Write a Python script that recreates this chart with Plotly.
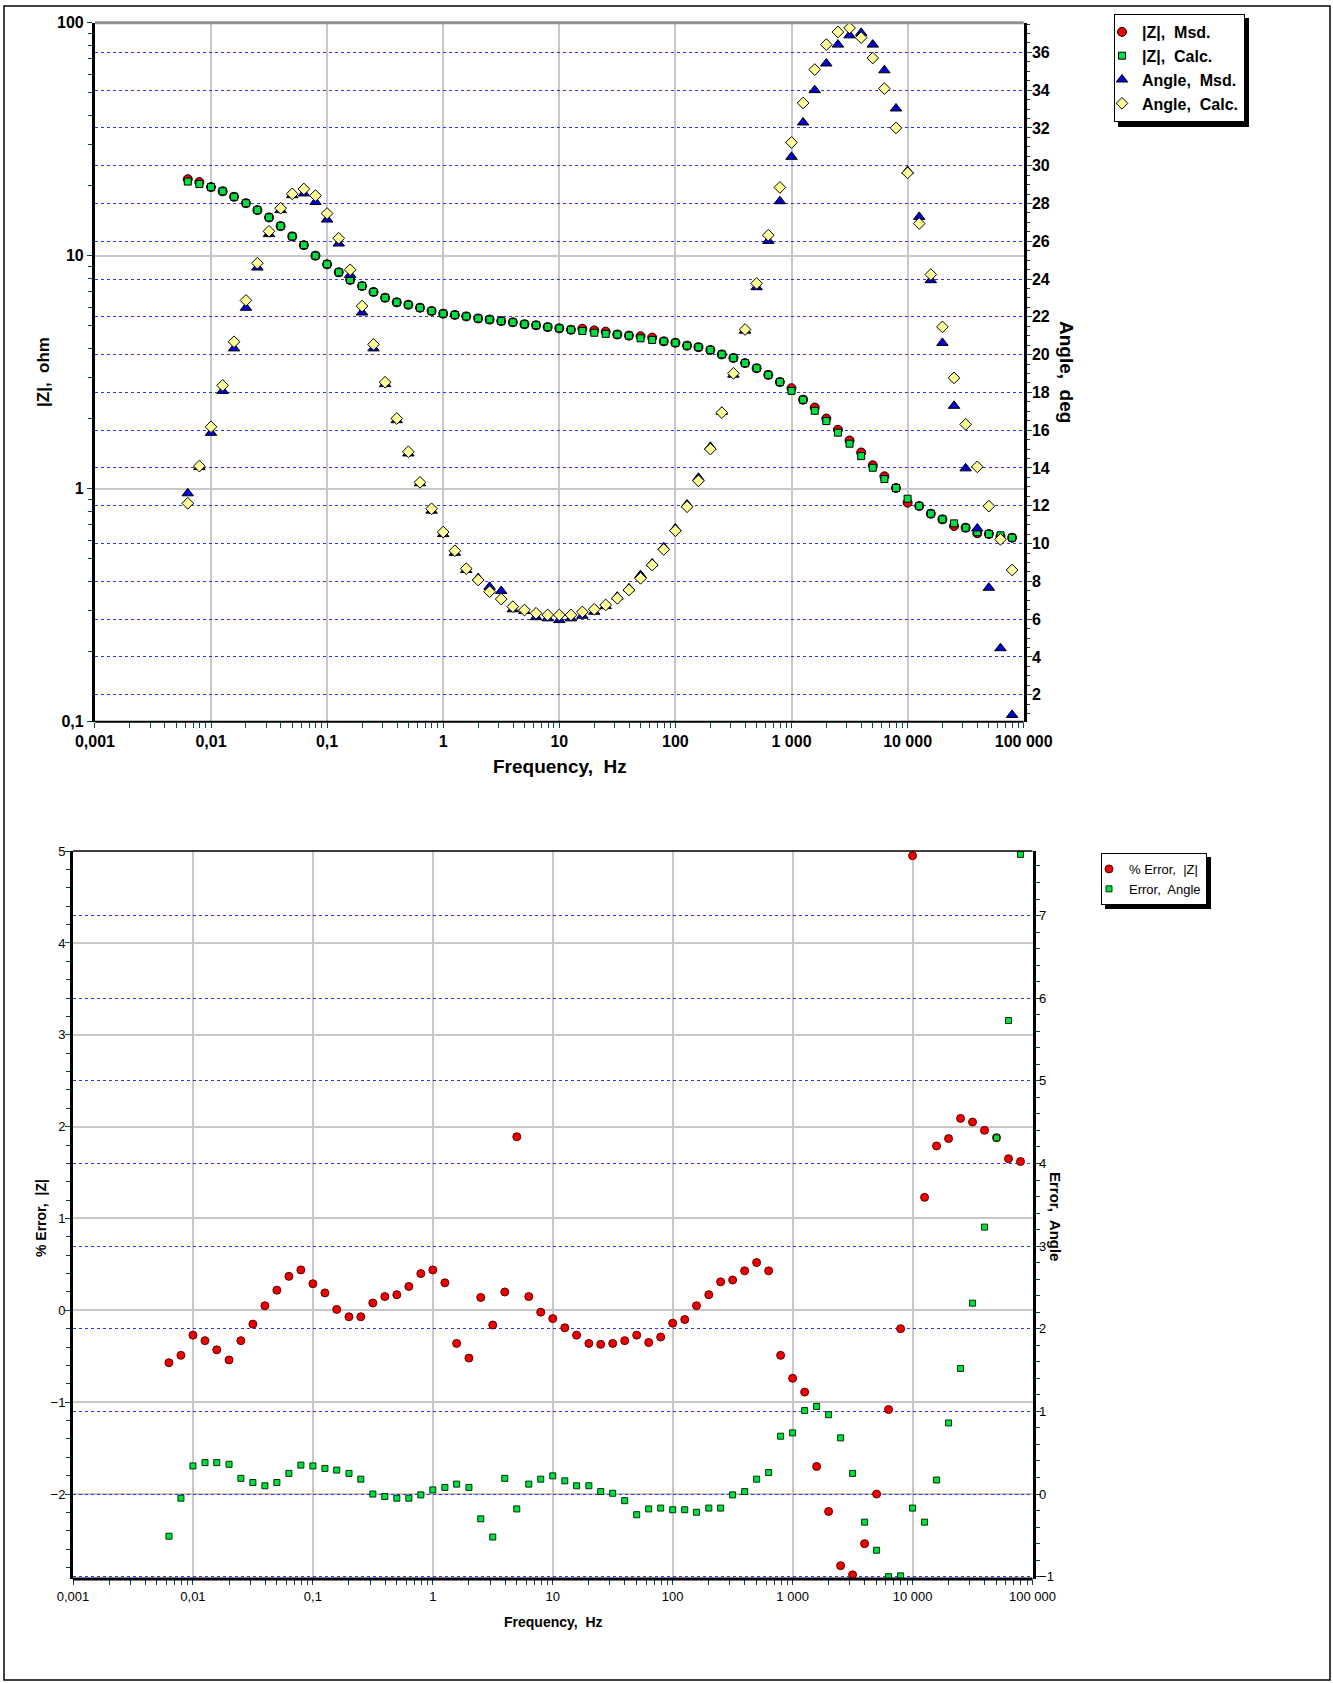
import plotly.graph_objects as go

W, H = 1333, 1683

# ---------------- data ----------------
freq = [0.00631, 0.00794, 0.01, 0.0126, 0.0158, 0.02, 0.0251, 0.0316, 0.0398, 0.0501,
        0.0631, 0.0794, 0.1, 0.126, 0.158, 0.2, 0.251, 0.316, 0.398, 0.501,
        0.631, 0.794, 1.0, 1.26, 1.58, 2.0, 2.51, 3.16, 3.98, 5.01,
        6.31, 7.94, 10.0, 12.6, 15.8, 20.0, 25.1, 31.6, 39.8, 50.1,
        63.1, 79.4, 100.0, 126.0, 158.0, 200.0, 251.0, 316.0, 398.0, 501.0,
        631.0, 794.0, 1000.0, 1259.0, 1585.0, 1995.0, 2512.0, 3162.0, 3981.0, 5012.0,
        6310.0, 7943.0, 10000.0, 12589.0, 15849.0, 19953.0, 25119.0, 31623.0, 39811.0, 50119.0,
        63096.0, 79433.0]

z_calc = [20.8, 20.3, 19.7, 18.9, 17.9, 16.8, 15.7, 14.6, 13.4, 12.1, 11.1, 10.0,
          9.19, 8.49, 7.87, 7.41, 6.99, 6.60, 6.31, 6.16, 5.98, 5.79,
          5.64, 5.57, 5.49, 5.38, 5.32, 5.24, 5.18, 5.08, 5.03, 4.94,
          4.88, 4.81, 4.75, 4.67, 4.62, 4.59, 4.54, 4.42, 4.35, 4.29,
          4.23, 4.11, 4.05, 3.94, 3.77, 3.64, 3.46, 3.29, 3.08, 2.87,
          2.63, 2.41, 2.16, 1.95, 1.74, 1.56, 1.38, 1.23, 1.10, 1.007,
          0.906, 0.843, 0.781, 0.739, 0.710, 0.680, 0.650, 0.639, 0.631, 0.616]

z_msd = [21.3, 20.7, 19.7, 18.9, 17.9, 16.8, 15.7, 14.6, 13.4, 12.1, 11.1, 10.0,
         9.19, 8.49, 7.87, 7.41, 6.99, 6.60, 6.31, 6.16, 5.98, 5.79,
         5.64, 5.57, 5.49, 5.38, 5.32, 5.24, 5.18, 5.08, 5.03, 4.94,
         4.88, 4.81, 4.86, 4.78, 4.72, 4.59, 4.54, 4.51, 4.45, 4.29,
         4.23, 4.11, 4.05, 3.94, 3.77, 3.64, 3.46, 3.29, 3.08, 2.87,
         2.70, 2.41, 2.23, 2.00, 1.79, 1.61, 1.43, 1.26, 1.13, 1.007,
         0.871, 0.843, 0.781, 0.739, 0.692, 0.680, 0.644, 0.639, 0.622, 0.616]

ang_msd = [12.66, 14.05, 15.86, 18.08, 20.33, 22.48, 24.61, 26.38, 27.65, 28.44, 28.53, 28.08,
           27.15, 25.88, 24.22, 22.23, 20.33, 18.44, 16.53, 14.77, 13.19, 11.74,
           10.50, 9.51, 8.60, 8.17, 7.71, 7.49, 6.52, 6.43, 6.10, 6.04,
           5.95, 6.04, 6.18, 6.39, 6.69, 7.19, 7.63, 8.33, 8.95, 9.80,
           10.80, 12.07, 13.48, 15.12, 16.97, 18.94, 21.27, 23.57, 26.02, 28.12,
           30.47, 32.29, 34.00, 35.41, 36.41, 36.90, 37.03, 36.41, 35.05, 33.03,
           29.72, 27.29, 23.94, 20.62, 17.29, 13.98, 10.80, 7.66, 4.46, 0.93]

ang_calc = [12.13, 14.10, 16.18, 18.37, 20.68, 22.87, 24.84, 26.53, 27.75, 28.51, 28.77, 28.42,
            27.47, 26.16, 24.49, 22.57, 20.54, 18.54, 16.62, 14.86, 13.24, 11.84,
            10.61, 9.62, 8.67, 8.07, 7.45, 7.06, 6.66, 6.48, 6.31, 6.22,
            6.22, 6.22, 6.38, 6.52, 6.75, 7.10, 7.54, 8.16, 8.86, 9.69,
            10.68, 11.95, 13.32, 15.00, 16.93, 19.01, 21.33, 23.77, 26.32, 28.85,
            31.23, 33.32, 35.09, 36.41, 37.08, 37.29, 36.78, 35.70, 34.08, 32.00,
            29.62, 26.94, 24.24, 21.47, 18.77, 16.31, 14.06, 11.98, 10.22, 8.60]

err_z = [-0.57, -0.49, -0.27, -0.33, -0.43, -0.54, -0.33, -0.15, 0.05, 0.22, 0.37, 0.44,
         0.29, 0.19, 0.01, -0.07, -0.07, 0.08, 0.15, 0.17, 0.26, 0.40,
         0.44, 0.30, -0.36, -0.52, 0.14, -0.16, 0.20, 1.89, 0.15, -0.02,
         -0.09, -0.19, -0.27, -0.36, -0.37, -0.36, -0.33, -0.27, -0.35, -0.29,
         -0.14, -0.10, 0.05, 0.17, 0.31, 0.33, 0.43, 0.52, 0.43, -0.49,
         -0.74, -0.89, -1.70, -2.19, -2.78, -2.88, -2.54, -2.00, -1.08, -0.20,
         4.95, 1.23, 1.79, 1.87, 2.09, 2.05, 1.96, 1.88, 1.65, 1.62]

err_ang = [-0.51, -0.05, 0.34, 0.38, 0.38, 0.36, 0.19, 0.14, 0.10, 0.14, 0.25, 0.35,
           0.34, 0.31, 0.29, 0.25, 0.18, 0.00, -0.03, -0.05, -0.05, -0.01,
           0.05, 0.08, 0.12, 0.08, -0.30, -0.52, 0.19, -0.18, 0.12, 0.18,
           0.22, 0.16, 0.10, 0.10, 0.03, 0.01, -0.08, -0.25, -0.18, -0.17,
           -0.19, -0.19, -0.22, -0.17, -0.17, -0.01, 0.03, 0.18, 0.26, 0.70,
           0.74, 1.01, 1.06, 0.96, 0.68, 0.25, -0.34, -0.68, -1.00, -0.99,
           -0.17, -0.34, 0.17, 0.86, 1.52, 2.31, 3.23, 4.31, 5.73, 7.74]

freq_ticks = [0.001, 0.01, 0.1, 1, 10, 100, 1000, 10000, 100000]
freq_labels = ["0,001", "0,01", "0,1", "1", "10", "100", "1 000", "10 000", "100 000"]
z_ticks = [0.1, 1, 10, 100]
z_labels = ["0,1", "1", "10", "100"]

# ---------------- styling helpers ----------------
FONT = "Liberation Sans, Arial, sans-serif"
TICKC = "#004848"
GRID = "#c8c8c8"
BLUEGRID = "#3030ff"


def px(x):
    return x / W


def py(y):
    return 1 - y / H


# pixel frames of the two panels
T_L, T_R, T_T, T_B = 94.9, 1023.7, 22.7, 721.7
B_L, B_R, B_T, B_B = 73.0, 1032.5, 851.1, 1579.0

minor_log = [m * 10 ** e for e in range(-3, 5) for m in range(2, 10)]

fig = go.Figure()

# ---- top panel: impedance modulus and phase angle ----
fig.add_trace(go.Scatter(x=freq, y=z_msd, mode="markers", name="|Z|,\u00a0 Msd.",
                         xaxis="x", yaxis="y", legend="legend",
                         marker=dict(symbol="circle", size=9, color="#ee0000",
                                     line=dict(color="#000000", width=1))))
fig.add_trace(go.Scatter(x=freq, y=z_calc, mode="markers", name="|Z|,\u00a0 Calc.",
                         xaxis="x", yaxis="y", legend="legend",
                         marker=dict(symbol="square", size=7, color="#00e040",
                                     line=dict(color="#000000", width=1))))
fig.add_trace(go.Scatter(x=freq, y=ang_msd, mode="markers", name="Angle,\u00a0 Msd.",
                         xaxis="x", yaxis="y2", legend="legend",
                         marker=dict(symbol="triangle-up", size=10, color="#0000d0",
                                     line=dict(color="#000000", width=1))))
fig.add_trace(go.Scatter(x=freq, y=ang_calc, mode="markers", name="Angle,\u00a0 Calc.",
                         xaxis="x", yaxis="y2", legend="legend",
                         marker=dict(symbol="diamond", size=9, color="#ffff99",
                                     line=dict(color="#000000", width=1))))

# ---- bottom panel: fit errors ----
fig.add_trace(go.Scatter(x=freq, y=err_z, mode="markers", name="% Error,\u00a0 |Z|",
                         xaxis="x2", yaxis="y3", legend="legend2",
                         marker=dict(symbol="circle", size=8, color="#ee0000",
                                     line=dict(color="#600000", width=1))))
fig.add_trace(go.Scatter(x=freq, y=err_ang, mode="markers", name="Error,\u00a0 Angle",
                         xaxis="x2", yaxis="y4", legend="legend2",
                         marker=dict(symbol="square", size=6, color="#00e040",
                                     line=dict(color="#003000", width=1))))

xcommon = dict(type="log", range=[-3, 5], tickmode="array", tickvals=freq_ticks,
               ticktext=freq_labels, showgrid=True, gridcolor=GRID, gridwidth=1.5,
               ticks="outside", ticklen=5, tickcolor=TICKC, zeroline=False,
               showline=False, automargin=False,
               minor=dict(tickmode="array", tickvals=minor_log, ticks="outside",
                          ticklen=5, tickcolor=TICKC, showgrid=False))

fig.update_layout(
    template="none",
    width=W, height=H, margin=dict(l=0, r=0, t=0, b=0, pad=0),
    paper_bgcolor="white", plot_bgcolor="white",
    font=dict(family=FONT, color="black"),
    xaxis=dict(xcommon, domain=[px(T_L), px(T_R)], anchor="y",
               tickfont=dict(size=16, weight="bold")),
    yaxis=dict(type="log", range=[-1, 2], domain=[py(T_B), py(T_T)], anchor="x",
               tickmode="array", tickvals=z_ticks, ticktext=z_labels,
               tickfont=dict(size=16, weight="bold"), automargin=False,
               showgrid=True, gridcolor=GRID, gridwidth=1.5,
               ticks="outside", ticklen=5, tickcolor=TICKC, zeroline=False,
               showline=True, linecolor="black", linewidth=3,
               minor=dict(tickmode="array", tickvals=[v for v in minor_log if 0.1 < v < 100],
                          ticks="outside", ticklen=4, tickcolor=TICKC, showgrid=False)),
    yaxis2=dict(range=[0.57, 37.57], overlaying="y", side="right", anchor="x",
                tickmode="linear", tick0=0, dtick=2, automargin=False,
                tickfont=dict(size=16, weight="bold"), ticklabelstandoff=-3,
                showgrid=True, gridcolor=BLUEGRID, griddash="dot", gridwidth=1,
                ticks="outside", ticklen=5, tickcolor=TICKC, zeroline=False,
                showline=True, linecolor="black", linewidth=3,
                minor=dict(dtick=0.5, ticks="outside", ticklen=3, tickcolor=TICKC,
                           showgrid=False)),
    xaxis2=dict(xcommon, domain=[px(B_L), px(B_R)], anchor="y3",
                tickfont=dict(size=13)),
    yaxis3=dict(range=[-2.925, 5], domain=[py(B_B), py(B_T)], anchor="x2",
                tickmode="linear", tick0=0, dtick=1, tickfont=dict(size=13),
                ticklabelstandoff=-3,
                showgrid=True, gridcolor=GRID, gridwidth=1.5, automargin=False,
                ticks="outside", ticklen=5, tickcolor=TICKC, zeroline=False,
                showline=True, linecolor="black", linewidth=3,
                minor=dict(dtick=0.2, ticks="outside", ticklen=4, tickcolor=TICKC,
                           showgrid=False)),
    yaxis4=dict(range=[-1.028, 7.78], overlaying="y3", side="right", anchor="x2",
                tickmode="linear", tick0=0, dtick=1, tickfont=dict(size=13),
                ticklabelstandoff=-4,
                showgrid=True, gridcolor=BLUEGRID, griddash="dot", gridwidth=1,
                ticks="outside", ticklen=5, tickcolor=TICKC, zeroline=False,
                showline=True, linecolor="black", linewidth=3, automargin=False,
                minor=dict(dtick=0.2, ticks="outside", ticklen=4, tickcolor=TICKC,
                           showgrid=False)),
    legend=dict(x=px(1114), y=py(14), xanchor="left", yanchor="top",
                bgcolor="white", bordercolor="black", borderwidth=1,
                font=dict(size=16, weight="bold"), itemwidth=30, indentation=-13,
                tracegroupgap=0, traceorder="normal"),
    legend2=dict(x=px(1101), y=py(853), xanchor="left", yanchor="top",
                 bgcolor="white", bordercolor="black", borderwidth=1,
                 font=dict(size=13), itemwidth=30, indentation=-13,
                 traceorder="normal"),
    showlegend=True,
)

shapes = []
# outer border of the page
shapes.append(dict(type="rect", xref="paper", yref="paper", x0=px(4), x1=px(1330),
                   y0=py(1680), y1=py(6), line=dict(color="black", width=1.5)))
# panel frames: top/bottom edges
shapes.append(dict(type="line", xref="paper", yref="paper", x0=px(T_L), x1=px(T_R),
                   y0=py(T_T), y1=py(T_T), line=dict(color="#909090", width=3)))
shapes.append(dict(type="line", xref="paper", yref="paper", x0=px(T_L), x1=px(T_R),
                   y0=py(T_B), y1=py(T_B), line=dict(color="black", width=2)))
shapes.append(dict(type="line", xref="paper", yref="paper", x0=px(B_L), x1=px(B_R),
                   y0=py(B_T), y1=py(B_T), line=dict(color="black", width=1.5)))
shapes.append(dict(type="line", xref="paper", yref="paper", x0=px(B_L), x1=px(B_R),
                   y0=py(B_B), y1=py(B_B), line=dict(color="black", width=3)))
# legend drop shadows
shapes.append(dict(type="rect", xref="paper", yref="paper", x0=px(1118), x1=px(1249),
                   y0=py(127), y1=py(18), fillcolor="black", line=dict(width=0),
                   layer="above"))
shapes.append(dict(type="rect", xref="paper", yref="paper", x0=px(1105), x1=px(1211),
                   y0=py(909), y1=py(857), fillcolor="black", line=dict(width=0),
                   layer="above"))
fig.update_layout(shapes=shapes)

ann = [
    dict(text="|Z|,  ohm", x=px(43), y=py(372), textangle=-90,
         font=dict(size=17, weight="bold")),
    dict(text="Angle,  deg", x=px(1067), y=py(372), textangle=90,
         font=dict(size=19, weight="bold")),
    dict(text="Frequency,  Hz", x=px(560), y=py(766),
         font=dict(size=19, weight="bold")),
    dict(text="% Error,  |Z|", x=px(41), y=py(1218), textangle=-90,
         font=dict(size=14, weight="bold")),
    dict(text="Error,  Angle", x=px(1056), y=py(1216), textangle=90,
         font=dict(size=15, weight="bold")),
    dict(text="Frequency,  Hz", x=px(553), y=py(1622),
         font=dict(size=14, weight="bold")),
]
for a in ann:
    a.update(xref="paper", yref="paper", showarrow=False, xanchor="center",
             yanchor="middle")
    a["text"] = a["text"].replace("  ", "\u00a0 ")
fig.update_layout(annotations=ann)

fig.write_html("out.html")
